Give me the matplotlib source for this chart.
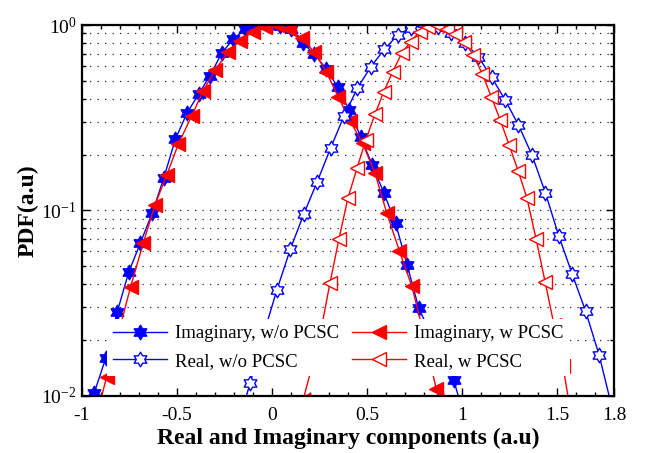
import numpy as np
import matplotlib
matplotlib.use("Agg")
import matplotlib.pyplot as plt
from matplotlib.path import Path

# -------------------------------------------------------------
# Dados (PDF das componentes real e imaginária)
x_imag_wo = [-0.935, -0.874, -0.813, -0.752, -0.691, -0.630, -0.569, -0.508,
             -0.447, -0.386, -0.325, -0.264, -0.203, -0.142, -0.081, -0.020,
             0.040, 0.101, 0.162, 0.223, 0.284, 0.345, 0.406, 0.467, 0.528,
             0.589, 0.650, 0.711, 0.772, 0.833, 0.894, 0.955, 1.016]
pdf_imag_wo = [0.0103, 0.0159, 0.0284, 0.0467, 0.0669, 0.0964, 0.149, 0.2415,
               0.334, 0.423, 0.534, 0.706, 0.840, 0.946, 0.994, 1.005,
               0.990, 0.952, 0.800, 0.697, 0.582, 0.4645, 0.348, 0.2496, 0.1746,
               0.124, 0.0851, 0.0507, 0.0296, 0.0218, 0.0164, 0.0122, 0.0074]

x_imag_w = [-0.933, -0.869, -0.804, -0.743, -0.676, -0.615, -0.553, -0.492,
            -0.422, -0.361, -0.299, -0.232, -0.168, -0.101, -0.036, 0.028,
            0.092, 0.157, 0.223, 0.286, 0.349, 0.412, 0.477, 0.542, 0.604,
            0.670, 0.735, 0.800, 0.864, 0.929]
pdf_imag_w = [0.00695, 0.01266, 0.0223, 0.0387, 0.0669, 0.1069, 0.1551, 0.228,
              0.323, 0.442, 0.5716, 0.712, 0.823, 0.920, 0.981, 0.994,
              0.952, 0.846, 0.715, 0.558, 0.409, 0.303, 0.2295, 0.1584, 0.0964,
              0.0604, 0.0391, 0.02126, 0.01083, 0.00653]

x_real_wo = [-0.186, -0.115, -0.045, 0.026, 0.097, 0.167, 0.238, 0.308, 0.379,
             0.449, 0.520, 0.591, 0.661, 0.732, 0.802, 0.873, 0.944, 1.014,
             1.085, 1.155, 1.226, 1.296, 1.367, 1.438, 1.508, 1.579, 1.649,
             1.720, 1.791]
pdf_real_wo = [0.00653, 0.01167, 0.02126, 0.0372, 0.0619, 0.0952, 0.1427, 0.2162,
               0.323, 0.4556, 0.5957, 0.7394, 0.883, 0.969, 1.019, 0.979, 0.902,
               0.8028, 0.6745, 0.522, 0.394, 0.2888, 0.1989, 0.124, 0.0727,
               0.0452, 0.0286, 0.01658, 0.00837]

x_real_w = [0.164, 0.211, 0.258, 0.305, 0.352, 0.399, 0.447, 0.494, 0.541,
            0.588, 0.635, 0.682, 0.729, 0.776, 0.823, 0.870, 0.918, 0.965,
            1.012, 1.059, 1.106, 1.153, 1.200, 1.247, 1.294, 1.341, 1.389,
            1.436, 1.483, 1.530, 1.577]
pdf_real_w = [0.0095, 0.01446, 0.0226, 0.0405, 0.0698, 0.1159, 0.1686, 0.2405,
              0.329, 0.4366, 0.560, 0.7035, 0.8126, 0.920, 0.975, 0.994, 0.952,
              0.894, 0.810, 0.689, 0.544, 0.4105, 0.3073, 0.2253, 0.1637,
              0.1161, 0.0698, 0.0412, 0.02406, 0.01446, 0.0074]

labels = ["Imaginary, w/o PCSC", "Imaginary, w PCSC",
          "Real, w/o PCSC", "Real, w PCSC"]
xtick_vals = [-1, -0.5, 0, 0.5, 1, 1.5, 1.8]
xtick_labels = ["-1", "-0.5", "0", "0.5", "1", "1.5", "1.8"]

# -------------------------------------------------------------
# Estilo
plt.rcParams["font.family"] = ["Liberation Serif", "DejaVu Serif"]
plt.rcParams["mathtext.fontset"] = "custom"
plt.rcParams["mathtext.rm"] = "Liberation Serif"
plt.rcParams["axes.unicode_minus"] = False

hexagram = Path.unit_regular_star(6, 0.58)

fig = plt.figure(figsize=(6.47, 4.53), dpi=100)
ax = fig.add_axes([0.1263, 0.1265, 0.8232, 0.8183])

l1, = ax.semilogy(x_imag_wo, pdf_imag_wo, color="blue", lw=1.0,
                  marker=hexagram, ms=10.5, mfc="blue", mec="blue", mew=1.0)
l3, = ax.semilogy(x_imag_w, pdf_imag_w, color="red", lw=1.0,
                  marker="<", ms=10, mfc="red", mec="red", mew=1.0)
l2, = ax.semilogy(x_real_wo, pdf_real_wo, color="blue", lw=1.0,
                  marker=hexagram, ms=10.5, mfc="white", mec="blue", mew=1.0)
l4, = ax.semilogy(x_real_w, pdf_real_w, color="red", lw=1.0,
                  marker="<", ms=10, mfc="white", mec="red", mew=1.0)

ax.set_xlim(-1, 1.8)
ax.set_ylim(1e-2, 1)
ax.set_xticks(xtick_vals)
ax.set_xticklabels(xtick_labels)
ax.set_xticks(np.arange(-1, 1.81, 0.1), minor=True)
ax.set_yticks([1e-2, 1e-1, 1])
ax.set_yticklabels([r"$\mathregular{10^{-2}}$", r"$\mathregular{10^{-1}}$",
                    r"$\mathregular{10^{0}}$"])

ax.tick_params(which="both", direction="in", top=True, right=True,
               labelsize=14, width=1.0)
ax.tick_params(which="major", length=6)
ax.tick_params(which="minor", length=3)
ax.tick_params(axis="x", which="major", pad=8)
for s in ax.spines.values():
    s.set_linewidth(1.6)

ax.yaxis.grid(True, which="both", linestyle=(0, (1, 5)), linewidth=0.9,
              color="0.15")
ax.xaxis.grid(False)

ax.set_xlabel("Real and Imaginary components (a.u)", fontsize=17,
              fontweight="bold", labelpad=3)
ax.set_ylabel("PDF(a.u)", fontsize=17, fontweight="bold", labelpad=2)

leg = ax.legend([l1, l2, l3, l4],
                [labels[0], labels[2], labels[1], labels[3]],
                ncol=2, loc="lower left", bbox_to_anchor=(0.0475, 0.054),
                fontsize=13.5, frameon=True, fancybox=False, framealpha=1,
                facecolor="white", edgecolor="none", borderpad=0.3,
                borderaxespad=0, handlelength=2.9, handletextpad=0.43,
                columnspacing=0.68, labelspacing=0.57)

fig.savefig("out.png", dpi=100)
plt.close(fig)
